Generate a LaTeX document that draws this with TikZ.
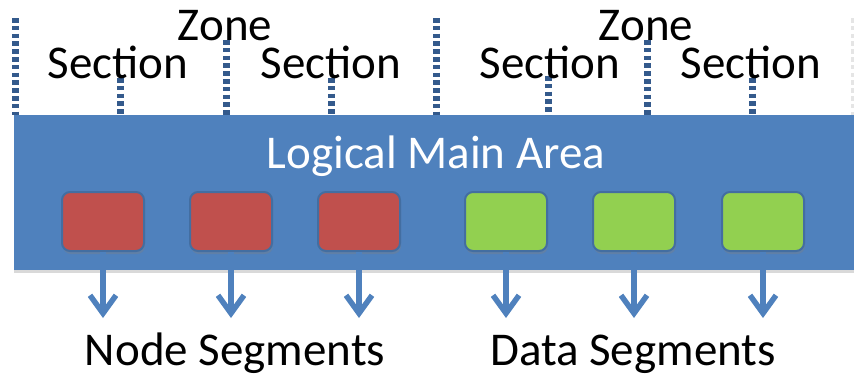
\documentclass[tikz,border=0pt]{standalone}
\usepackage{fontspec}
\setmainfont{Carlito}
\usetikzlibrary{arrows.meta,shadows}
\definecolor{areablue}{HTML}{4F81BD}
\definecolor{markblue}{HTML}{345A8C}
\definecolor{segred}{HTML}{C0504D}
\definecolor{seggreen}{HTML}{92D050}
\tikzset{
  txt/.style={font=\fontsize{47}{47}\selectfont, anchor=base, inner sep=0pt},
  area/.style={fill=areablue, draw=none, anchor=north west, inner sep=0pt,
    minimum width=850pt, minimum height=155pt,
    drop shadow={shadow xshift=0pt, shadow yshift=-3pt, opacity=0.3}},
  seg/.style={draw=areablue!85!black, line width=2pt, rounded corners=8pt,
    minimum width=82pt, minimum height=59pt, inner sep=0pt,
    drop shadow={shadow xshift=1pt, shadow yshift=-3pt, opacity=0.35}},
  divider/.style={markblue, line width=7pt, dash pattern=on 4.6pt off 3.2pt},
  outlink/.style={draw=areablue, line width=5.5pt,
    -{Straight Barb[length=18pt,width=26pt,line width=5.5pt]}}
}
\begin{document}
\begin{tikzpicture}[x=1pt,y=-1pt]
  \useasboundingbox (0,0) rectangle (854,378);
  \clip (0,0) rectangle (854,378);

  % logical main area
  \node[area] (main) at (14,115) {};
  \node[txt, text=white] (title) at (436,168) {Logical Main Area};

  % zone, section and sub-section dividers
  \coordinate (za) at (15,18);
  \coordinate (zb) at (436,18);
  \coordinate (zc) at (854,18);
  \coordinate (sa) at (226,40);
  \coordinate (sb) at (647,40);
  \coordinate (ta) at (120,78);
  \coordinate (tb) at (331,78);
  \coordinate (tc) at (548,76);
  \coordinate (td) at (752,78);
  \foreach \c in {za,zb,sa,sb,ta,tb,tc,td}
    \draw[divider] (\c) -- (\c |- main.north);
  \draw[divider, gray!20] (zc) -- (zc |- main.north);

  % labels above the area
  \node[txt] (zone1) at (225,40) {Zone};
  \node[txt] (zone2) at (646,40) {Zone};
  \node[txt] (sec1) at (118,78) {Section};
  \node[txt] (sec2) at (331,78) {Section};
  \node[txt] (sec3) at (550,78) {Section};
  \node[txt] (sec4) at (751,78) {Section};

  % segments
  \node[seg, fill=segred]   (n1) at (103,221.5) {};
  \node[seg, fill=segred]   (n2) at (231,221.5) {};
  \node[seg, fill=segred]   (n3) at (359,221.5) {};
  \node[seg, fill=seggreen] (d1) at (506,221.5) {};
  \node[seg, fill=seggreen] (d2) at (634,221.5) {};
  \node[seg, fill=seggreen] (d3) at (763,221.5) {};

  % outgoing arrows
  \foreach \s in {n1,n2,n3,d1,d2,d3} {
    \coordinate (\s-end) at ([yshift=-66pt]\s.south);
    \draw[outlink] (\s.south) -- (\s-end);
  }

  % bottom labels
  \node[txt] (nodeseg) at (235,365) {Node Segments};
  \node[txt] (dataseg) at (633,365) {Data Segments};
\end{tikzpicture}
\end{document}
